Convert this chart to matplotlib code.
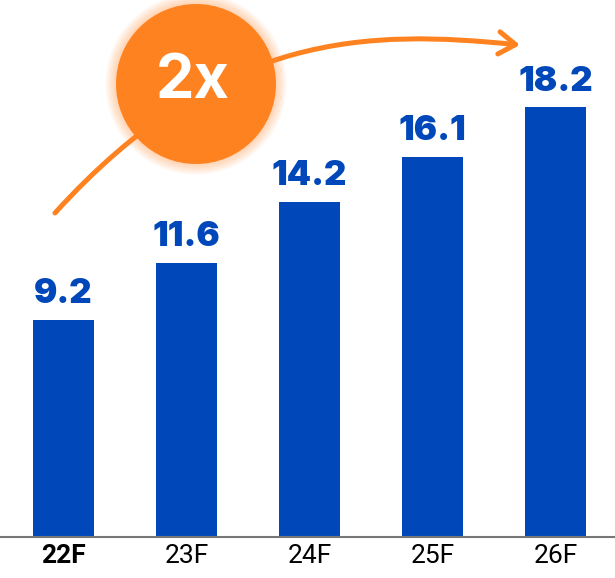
import matplotlib
matplotlib.use("Agg")
import matplotlib.pyplot as plt
import matplotlib.patches as mpatches
from matplotlib.path import Path

years = ["22F", "23F", "24F", "25F", "26F"]
values = [9.2, 11.6, 14.2, 16.1, 18.2]
badge = "2x"

blue = "#0048BA"
orange = "#FF8220"

W, H = 615, 578
fig = plt.figure(figsize=(W / 100, H / 100), dpi=100)

# bar chart, baseline ~41px from the bottom
ax = fig.add_axes([0, 41 / H, 1, 537 / H])
x = range(len(years))
ax.bar(x, values, width=0.5, color=blue, zorder=2)
ax.set_xlim(-0.516, 4.484)
ax.set_ylim(0, 22.75)
for xi, v in zip(x, values):
    ax.annotate(f"{v:.1f}", (xi, v), xytext=(0, 7), textcoords="offset points",
                ha="center", va="bottom", color=blue, fontsize=25,
                fontweight="black", family="Inter")

for s in ["top", "right", "left"]:
    ax.spines[s].set_visible(False)
ax.spines["bottom"].set_color("#777777")
ax.spines["bottom"].set_linewidth(1.5)
ax.set_yticks([])
ax.set_xticks(list(x))
ax.set_xticklabels(years, family=["Liberation Sans Narrow", "Roboto"],
                   fontsize=19, color="black")
ax.tick_params(axis="x", length=0, pad=5)
ax.get_xticklabels()[0].set_fontweight("bold")

# overlay in pixel coords for the arrow and badge
ov = fig.add_axes([0, 0, 1, 1], zorder=3)
ov.set_xlim(0, W)
ov.set_ylim(H, 0)
ov.axis("off")

verts = [(55, 213), (221, 30), (370, 30), (520, 45)]
path = Path(verts, [Path.MOVETO, Path.CURVE4, Path.CURVE4, Path.CURVE4])
arrow = mpatches.FancyArrowPatch(path=path, arrowstyle="->,head_length=12,head_width=8",
                                 color=orange, lw=3.6, capstyle="round",
                                 joinstyle="round", zorder=1)
ov.add_patch(arrow)

cx, cy, r = 196, 84, 80
for i in range(9, 0, -1):
    ov.add_patch(mpatches.Circle((cx, cy), r + i * 1.2, color=orange,
                                 alpha=0.04, lw=0, zorder=2))
ov.add_patch(mpatches.Circle((cx, cy), r, color=orange, lw=0, zorder=3))
ov.text(cx - 3, cy - 2, badge, ha="center", va="center", color="white",
        fontsize=44, fontweight="bold", family="Inter", zorder=4)

fig.savefig("out.png", dpi=100)
